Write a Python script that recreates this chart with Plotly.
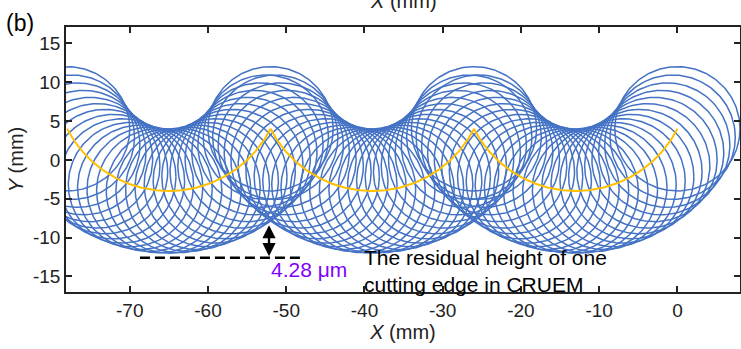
import numpy as np
import plotly.graph_objects as go

# ---- data ----
cusp_x = [-78, -52, -26, 0]        # x of the cusps of the tool-centre path (mm)
cusp_y = 4.0                       # y of the cusps (mm)
valley_y = -4.0                    # lowest y of each arc of the path (mm)
tool_radius = 8.0                  # radius of the cutting-edge circle (mm)
circles_per_arc = 26               # number of circle positions per arc
residual_y_top = -8.4              # top of the residual-height arrow (mm)
residual_y_bottom = -12.6          # bottom / dashed reference line (mm)
residual_x = -52.2
dash_x = [-68.7, -48.2]
x_ticks = [-70, -60, -50, -40, -30, -20, -10, 0]
x_tick_text = ["-70", "-60", "-50", "-40", "-30", "-20", "-10", "0"]
y_ticks = [-15, -10, -5, 0, 5, 10, 15]
y_tick_text = ["-15", "-10", "-5", "0", "5", "10", "15"]

BLUE = "#4472C4"
YELLOW = "#FFC000"
FONT = "Liberation Sans, Arial, sans-serif"
INK = "#222222"

fig = go.Figure()

# path arcs
path_x, path_y, centres = [], [], []
for i in range(len(cusp_x) - 1):
    x0, x1 = cusp_x[i], cusp_x[i + 1]
    xm = (x0 + x1) / 2
    half = (x1 - x0) / 2
    h = cusp_y - valley_y
    r = (half ** 2 + h ** 2) / (2 * h)
    cy = valley_y + r
    a0 = np.arctan2(cusp_y - cy, x0 - xm)
    a1 = np.arctan2(cusp_y - cy, x1 - xm)
    if a0 > 0:
        a0 -= 2 * np.pi
    t = np.linspace(a0, a1, 200)
    path_x += list(xm + r * np.cos(t)) + [None]
    path_y += list(cy + r * np.sin(t)) + [None]
    tc = np.linspace(a0, a1, circles_per_arc + 1)
    pts = list(zip(xm + r * np.cos(tc), cy + r * np.sin(tc)))
    if i > 0:
        pts = pts[1:]
    centres += pts

phi = np.linspace(0, 2 * np.pi, 181)
cx_all, cy_all = [], []
for (cx, cyy) in centres:
    cx_all += list(cx + tool_radius * np.cos(phi)) + [None]
    cy_all += list(cyy + tool_radius * np.sin(phi)) + [None]

fig.add_trace(go.Scatter(x=cx_all, y=cy_all, mode="lines",
                         line=dict(color=BLUE, width=1.5),
                         hoverinfo="skip", showlegend=False))
fig.add_trace(go.Scatter(x=path_x, y=path_y, mode="lines",
                         line=dict(color=YELLOW, width=2),
                         hoverinfo="skip", showlegend=False))
fig.add_trace(go.Scatter(x=dash_x, y=[residual_y_bottom] * 2, mode="lines",
                         line=dict(color="black", width=2.5, dash="10px,5px"),
                         hoverinfo="skip", showlegend=False))

# double-headed arrow
fig.add_annotation(x=residual_x, y=residual_y_top, ax=residual_x, ay=residual_y_bottom,
                   xref="x", yref="y", axref="x", ayref="y",
                   showarrow=True, arrowhead=2, startarrowhead=2,
                   arrowside="end+start", arrowsize=1.1, startarrowsize=1.1,
                   arrowwidth=2.4, arrowcolor="black", text="")

fig.add_annotation(x=-47.1, y=-14.1, xref="x", yref="y", text="4.28 μm",
                   showarrow=False, xanchor="center", yanchor="middle",
                   font=dict(family=FONT, size=21, color="#7F00FF"))
fig.add_annotation(x=-40.3, y=-14.3, xref="x", yref="y",
                   text="The residual height of one<br>cutting edge in CRUEM",
                   showarrow=False, xanchor="left", yanchor="middle", align="left",
                   font=dict(family=FONT, size=21, color="black"))

fig.add_annotation(x=0, y=1.0, xref="paper", yref="paper", xshift=-62, yshift=4,
                   text="(b)", showarrow=False, xanchor="left", yanchor="middle",
                   font=dict(family=FONT, size=23, color="black"))
fig.add_annotation(x=0.5, y=1.0, xref="paper", yref="paper", yshift=26,
                   text="<i>X</i> (mm)", showarrow=False, xanchor="center", yanchor="middle",
                   font=dict(family=FONT, size=20, color=INK))

axis_common = dict(showgrid=False, zeroline=False, showline=True, linecolor=INK,
                   linewidth=1.5, mirror="ticks", ticks="inside", ticklen=6,
                   tickwidth=1.5, tickcolor=INK, automargin=False,
                   tickfont=dict(family=FONT, size=19, color=INK))
fig.update_xaxes(range=[-78.15, 8.0], tickvals=x_ticks, ticktext=x_tick_text,
                 title=dict(text="<i>X</i> (mm)", font=dict(family=FONT, size=20, color=INK),
                            standoff=4), **axis_common)
fig.update_yaxes(range=[-17, 17.1], tickvals=y_ticks, ticktext=y_tick_text,
                 title=dict(text="<i>Y</i> (mm)", font=dict(family=FONT, size=20, color=INK),
                            standoff=4), **axis_common)

fig.update_layout(width=741, height=349, margin=dict(l=66, r=1, t=27, b=57),
                  plot_bgcolor="white", paper_bgcolor="white")

fig.write_html("out.html", config={"displayModeBar": False},
               post_script="document.body.style.margin='0';document.body.style.overflow='hidden';")
